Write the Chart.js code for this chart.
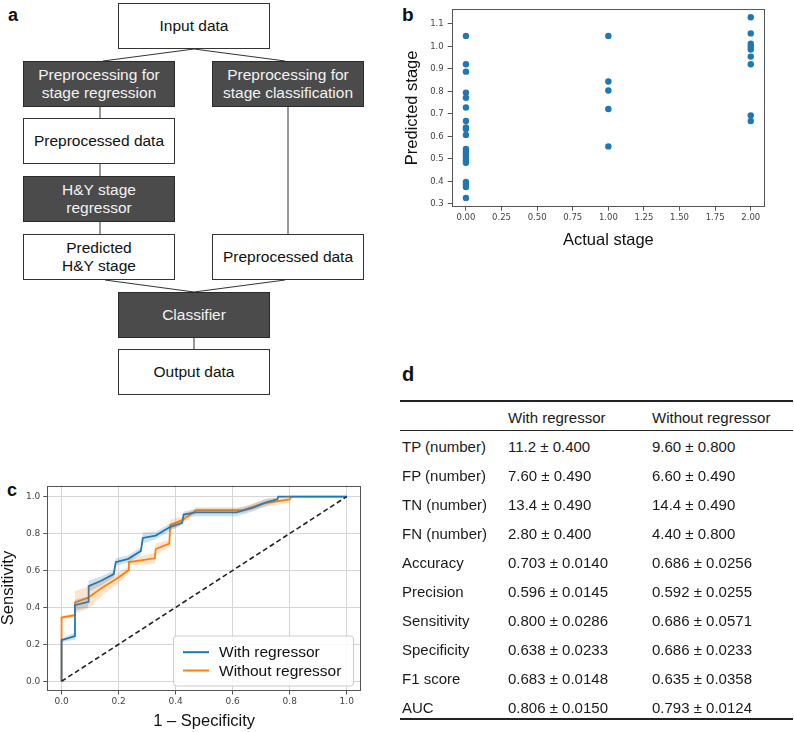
<!DOCTYPE html>
<html>
<head>
<meta charset="utf-8">
<script src="https://cdn.jsdelivr.net/npm/chart.js@4.4.1/dist/chart.umd.min.js"></script>
<style>
  body { margin: 0; background: #fff; font-family: "Liberation Sans", Arial, sans-serif; color: #1a1a1a; }
  #page { position: relative; width: 794px; height: 732px; overflow: hidden; }
  .lbl { position: absolute; font-weight: bold; line-height: 1; color: #111; }
  .box { position: absolute; box-sizing: border-box; width: 152px; height: 46px; border: 1px solid #333;
         display: flex; align-items: center; justify-content: center; text-align: center;
         font-size: 15.5px; line-height: 18.3px; background: #fff; color: #111; }
  .box.dark { background: #4b4b4b; color: #f2f2f2; border-color: #2a2a2a; }
  .wrap { position: absolute; }
  .rule { position: absolute; left: 400px; width: 393px; background: #222; }
  .trow { position: absolute; left: 0; width: 794px; height: 29px; line-height: 29px; font-size: 15px; color: #1a1a1a; white-space: nowrap; }
  .trow span { position: absolute; top: 0; }
</style>
</head>
<body>
<div id="page">
  <div class="lbl" style="left:8px;top:6px;font-size:18px">a</div>
  <div class="lbl" style="left:402px;top:5px;font-size:19px">b</div>
  <div class="lbl" style="left:7px;top:481px;font-size:18px">c</div>
  <div class="lbl" style="left:402px;top:364px;font-size:20px">d</div>

  <svg id="links" width="400" height="400" style="position:absolute;left:0;top:0"></svg>
  <div id="flow"></div>

  <div class="wrap" style="left:400px;top:0;width:394px;height:260px"><canvas id="scatter" width="394" height="260"></canvas></div>
  <div class="wrap" style="left:0;top:470px;width:390px;height:262px"><canvas id="roc" width="390" height="262"></canvas></div>

  <div id="table"></div>
</div>

<script>
// b: predicted vs actual H&Y stage
const stage0Pred = [1.047, 0.921, 0.888, 0.795, 0.772, 0.729, 0.669, 0.640, 0.633, 0.607,
                    0.545, 0.535, 0.525, 0.515, 0.505, 0.493, 0.483, 0.398, 0.386, 0.375, 0.327];
const stage1Pred = [1.047, 0.844, 0.804, 0.722, 0.556];
const stage2Pred = [1.130, 1.058, 1.012, 0.999, 0.986, 0.955, 0.921, 0.694, 0.669];
const stageXTicks = [0, 0.25, 0.5, 0.75, 1, 1.25, 1.5, 1.75, 2];
const stageYTicks = [0.3, 0.4, 0.5, 0.6, 0.7, 0.8, 0.9, 1.0, 1.1];

// c: mean ROC curves with spread
const blueFpr    = [0, 0, 0.047, 0.047, 0.093, 0.095, 0.139, 0.183, 0.19, 0.234, 0.278, 0.285, 0.33, 0.38, 0.423, 0.428, 0.47, 0.614, 0.672, 0.72, 0.757, 0.76, 1.0];
const blueTpr    = [0, 0.222, 0.245, 0.412, 0.43, 0.515, 0.544, 0.58, 0.645, 0.663, 0.705, 0.776, 0.789, 0.835, 0.858, 0.903, 0.914, 0.914, 0.94, 0.97, 0.985, 1.0, 1.0];
const blueSpread = [0, 0.01, 0.02, 0.03, 0.03, 0.03, 0.025, 0.02, 0.02, 0.02, 0.02, 0.03, 0.02, 0.02, 0.015, 0.015, 0.02, 0.02, 0.02, 0.02, 0.01, 0, 0];
const orangeFpr    = [0, 0, 0.047, 0.047, 0.093, 0.146, 0.193, 0.234, 0.236, 0.327, 0.33, 0.378, 0.381, 0.426, 0.473, 0.637, 0.707, 0.80, 0.806, 1.0];
const orangeTpr    = [0, 0.345, 0.358, 0.427, 0.452, 0.51, 0.555, 0.6, 0.645, 0.666, 0.716, 0.745, 0.845, 0.875, 0.927, 0.927, 0.963, 0.985, 1.0, 1.0];
const orangeSpread = [0, 0.01, 0.01, 0.06, 0.06, 0.04, 0.03, 0.02, 0.02, 0.03, 0.03, 0.02, 0.03, 0.02, 0.015, 0.015, 0.02, 0.02, 0, 0];
const chanceLine = [0, 1];
const rocTicks = [0, 0.2, 0.4, 0.6, 0.8, 1.0];

// d: metrics table
const tableHeader = ['', 'With regressor', 'Without regressor'];
const metricNames = ['TP (number)', 'FP (number)', 'TN (number)', 'FN (number)', 'Accuracy',
                     'Precision', 'Sensitivity', 'Specificity', 'F1 score', 'AUC'];
const withRegressor = ['11.2 \u00b1 0.400', '7.60 \u00b1 0.490', '13.4 \u00b1 0.490', '2.80 \u00b1 0.400', '0.703 \u00b1 0.0140',
                       '0.596 \u00b1 0.0145', '0.800 \u00b1 0.0286', '0.638 \u00b1 0.0233', '0.683 \u00b1 0.0148', '0.806 \u00b1 0.0150'];
const withoutRegressor = ['9.60 \u00b1 0.800', '6.60 \u00b1 0.490', '14.4 \u00b1 0.490', '4.40 \u00b1 0.800', '0.686 \u00b1 0.0256',
                          '0.592 \u00b1 0.0255', '0.686 \u00b1 0.0571', '0.686 \u00b1 0.0233', '0.635 \u00b1 0.0358', '0.793 \u00b1 0.0124'];

// a: flowchart (layout only)
const flowBoxes = [
    { text: 'Input data', x: 118, y: 3 },
    { text: 'Preprocessing for<br>stage regression', x: 23, y: 61, dark: true },
    { text: 'Preprocessing for<br>stage classification', x: 212, y: 61, dark: true },
    { text: 'Preprocessed data', x: 23, y: 118 },
    { text: 'H&amp;Y stage<br>regressor', x: 23, y: 176, dark: true },
    { text: 'Predicted<br>H&amp;Y stage', x: 23, y: 234 },
    { text: 'Preprocessed data', x: 212, y: 234 },
    { text: 'Classifier', x: 118, y: 292, dark: true },
    { text: 'Output data', x: 118, y: 349 },
];
const flowLinks = [
    [194, 49, 103, 61], [194, 49, 285, 61],
    [100, 107, 100, 118], [100, 164, 100, 176], [100, 222, 100, 234],
    [288, 107, 288, 234],
    [105, 280, 194, 292], [285, 280, 194, 292],
    [194, 337, 194, 349],
];

const flow = document.getElementById('flow');
flowBoxes.forEach(b => {
    const d = document.createElement('div');
    d.className = 'box' + (b.dark ? ' dark' : '');
    d.style.left = b.x + 'px';
    d.style.top = b.y + 'px';
    d.innerHTML = b.text;
    flow.appendChild(d);
});
const svg = document.getElementById('links');
flowLinks.forEach(([x1, y1, x2, y2]) => {
    const l = document.createElementNS('http://www.w3.org/2000/svg', 'line');
    l.setAttribute('x1', x1); l.setAttribute('y1', y1);
    l.setAttribute('x2', x2); l.setAttribute('y2', y2);
    l.setAttribute('stroke', '#333'); l.setAttribute('stroke-width', '1');
    svg.appendChild(l);
});

// table
const table = document.getElementById('table');
function addRule(top, h) {
    const r = document.createElement('div');
    r.className = 'rule';
    r.style.top = top + 'px';
    r.style.height = h + 'px';
    table.appendChild(r);
}
function addRow(top, cells) {
    const row = document.createElement('div');
    row.className = 'trow';
    row.style.top = top + 'px';
    [402, 508, 652].forEach((x, i) => {
        const s = document.createElement('span');
        s.style.left = x + 'px';
        s.textContent = cells[i];
        row.appendChild(s);
    });
    table.appendChild(row);
}
addRule(400, 2);
addRow(402.5, tableHeader);
addRule(430, 1);
metricNames.forEach((m, i) => addRow(431.5 + i * 29, [m, withRegressor[i], withoutRegressor[i]]));
addRule(718, 2);

// chart helpers
const SANS = "'Liberation Sans', Arial, sans-serif";
const TICKFONT = "'DejaVu Sans', sans-serif";

const framePlugin = {
    id: 'frame',
    afterDraw(chart, args, opts) {
        const { ctx, chartArea: a } = chart;
        ctx.save();
        ctx.strokeStyle = opts.color || '#555';
        ctx.lineWidth = 1;
        ctx.strokeRect(Math.round(a.left) + 0.5, Math.round(a.top) + 0.5,
                       Math.round(a.right - a.left) - 1, Math.round(a.bottom - a.top) - 1);
        ctx.restore();
    }
};

// legend drawn inside the plot, lower right like matplotlib
const innerLegend = {
    id: 'innerLegend',
    afterDraw(chart) {
        const { ctx, chartArea: a } = chart;
        const items = chart.data.datasets.filter(d => d.inLegend);
        const w = 180, h = 50;
        const left = a.right - 8 - w, top = a.bottom - 5 - h;
        ctx.save();
        ctx.beginPath();
        ctx.roundRect(left + 0.5, top + 0.5, w, h, 3);
        ctx.fillStyle = 'rgba(255,255,255,0.85)';
        ctx.fill();
        ctx.strokeStyle = '#cccccc';
        ctx.lineWidth = 1;
        ctx.stroke();
        ctx.font = '15.5px ' + SANS;
        ctx.textBaseline = 'middle';
        ctx.fillStyle = '#111';
        items.forEach((d, i) => {
            const y = top + 16.7 + i * 18.3;
            ctx.strokeStyle = d.borderColor;
            ctx.lineWidth = 2;
            ctx.beginPath();
            ctx.moveTo(left + 10, y);
            ctx.lineTo(left + 36, y);
            ctx.stroke();
            ctx.fillText(d.label, left + 46, y + 1);
        });
        ctx.restore();
    }
};

function axisTicks(list) {
    return s => { s.ticks = list.map(v => ({ value: v })); };
}

// b: scatter
const scatterPoints = [
    ...stage0Pred.map(v => ({ x: 0, y: v })),
    ...stage1Pred.map(v => ({ x: 1, y: v })),
    ...stage2Pred.map(v => ({ x: 2, y: v })),
];

new Chart(document.getElementById('scatter'), {
    type: 'scatter',
    data: {
        datasets: [{
            data: scatterPoints,
            backgroundColor: '#1f77b4',
            borderWidth: 0,
            pointRadius: 3.2,
            pointHoverRadius: 3.2,
        }]
    },
    options: {
        responsive: false,
        animation: false,
        events: [],
        layout: { padding: { left: 0, top: 4, right: 29, bottom: 0 } },
        plugins: { legend: { display: false }, tooltip: { enabled: false }, frame: { color: '#555' } },
        scales: {
            x: {
                type: 'linear', min: -0.1, max: 2.1,
                afterBuildTicks: axisTicks(stageXTicks),
                afterFit: s => { s.height = 53.3; },
                ticks: { callback: v => v.toFixed(2), font: { family: TICKFONT, size: 8.5 }, color: '#444', padding: 2, maxRotation: 0, autoSkip: false },
                grid: { drawOnChartArea: false, tickLength: 4, tickColor: '#555' },
                border: { display: false },
                title: { display: true, text: 'Actual stage', color: '#111', font: { family: SANS, size: 16.5, lineHeight: 1 }, padding: { top: 0, bottom: 11.75 } }
            },
            y: {
                type: 'linear', min: 0.288, max: 1.166,
                afterBuildTicks: axisTicks(stageYTicks),
                afterFit: s => { s.width = 51.7; },
                ticks: { callback: v => v.toFixed(1), font: { family: TICKFONT, size: 8.5 }, color: '#444', padding: 4, autoSkip: false },
                grid: { drawOnChartArea: false, tickLength: 4, tickColor: '#555' },
                border: { display: false },
                title: { display: true, text: 'Predicted stage', color: '#111', font: { family: SANS, size: 16.5, lineHeight: 1 }, padding: { top: 3.75, bottom: 0 } }
            }
        }
    },
    plugins: [framePlugin]
});

// c: ROC
const toXY = (xs, ys) => xs.map((x, i) => ({ x, y: ys[i] }));
const band = (xs, ys, sp, sign) => xs.map((x, i) => ({ x, y: ys[i] + sign * sp[i] }));

new Chart(document.getElementById('roc'), {
    type: 'line',
    data: {
        datasets: [
            { data: band(blueFpr, blueTpr, blueSpread, -1), borderWidth: 0, pointRadius: 0, fill: false },
            { data: band(blueFpr, blueTpr, blueSpread, 1), borderWidth: 0, pointRadius: 0, fill: '-1', backgroundColor: 'rgba(31,119,180,0.22)' },
            { data: band(orangeFpr, orangeTpr, orangeSpread, -1), borderWidth: 0, pointRadius: 0, fill: false },
            { data: band(orangeFpr, orangeTpr, orangeSpread, 1), borderWidth: 0, pointRadius: 0, fill: '-1', backgroundColor: 'rgba(255,127,14,0.22)' },
            { data: toXY(chanceLine, chanceLine), borderColor: '#222', borderWidth: 1.6, borderDash: [5, 3], pointRadius: 0 },
            { label: 'With regressor', inLegend: true, data: toXY(blueFpr, blueTpr), borderColor: '#1f77b4', borderWidth: 1.8, pointRadius: 0 },
            { label: 'Without regressor', inLegend: true, data: toXY(orangeFpr, orangeTpr), borderColor: '#ff7f0e', borderWidth: 1.8, pointRadius: 0 },
        ]
    },
    options: {
        responsive: false,
        animation: false,
        events: [],
        layout: { padding: { left: 0, top: 15.5, right: 29, bottom: 0 } },
        plugins: { legend: { display: false }, tooltip: { enabled: false }, frame: { color: '#555' } },
        scales: {
            x: {
                type: 'linear', min: -0.05, max: 1.05,
                afterBuildTicks: axisTicks(rocTicks),
                afterFit: s => { s.height = 41.5; },
                ticks: { callback: v => v.toFixed(1), font: { family: TICKFONT, size: 9 }, color: '#444', padding: 2, maxRotation: 0, autoSkip: false },
                grid: { color: '#d6d6d6', tickLength: 4, tickColor: '#555' },
                border: { display: false },
                title: { display: true, text: '1 \u2013 Specificity', color: '#111', font: { family: SANS, size: 16.5, lineHeight: 1 }, padding: { top: 0, bottom: 2 } }
            },
            y: {
                type: 'linear', min: -0.05, max: 1.06,
                afterBuildTicks: axisTicks(rocTicks),
                afterFit: s => { s.width = 47.3; },
                ticks: { callback: v => v.toFixed(1), font: { family: TICKFONT, size: 9 }, color: '#444', padding: 3, autoSkip: false },
                grid: { color: '#d6d6d6', tickLength: 4, tickColor: '#555' },
                border: { display: false },
                title: { display: true, text: 'Sensitivity', color: '#111', font: { family: SANS, size: 16.5, lineHeight: 1 }, padding: { top: 0, bottom: 0 } }
            }
        }
    },
    plugins: [framePlugin, innerLegend]
});
</script>
</body>
</html>
